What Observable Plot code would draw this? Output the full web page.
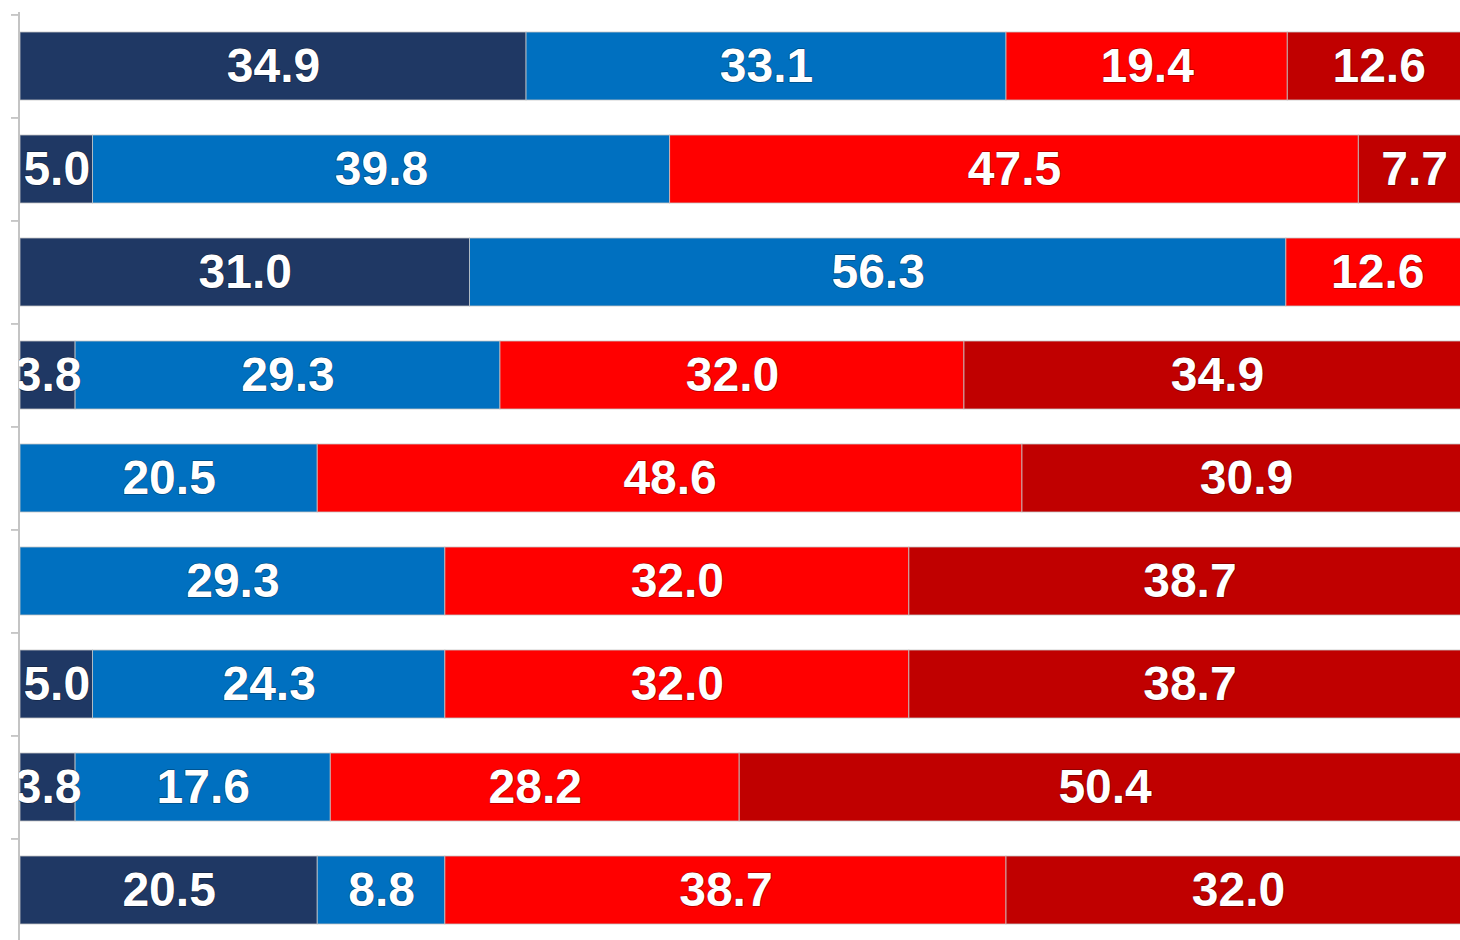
<!DOCTYPE html>
<html>
<head>
<meta charset="utf-8">
<script src="https://cdn.jsdelivr.net/npm/d3@7"></script>
<script src="https://cdn.jsdelivr.net/npm/@observablehq/plot@0.6"></script>
<style>
  html, body { margin: 0; padding: 0; background: #fff; overflow: hidden; }
  #chart { width: 1460px; height: 940px; }
</style>
</head>
<body>
<div id="chart"></div>
<script>
const categories = ["1", "2", "3", "4", "5", "6", "7", "8", "9"];
const seriesNames = ["A", "B", "C", "D"];
const seriesColors = ["#1f3864", "#0070c0", "#ff0000", "#c00000"];
const seriesA = [34.9, 5.0, 31.0, 3.8, 0, 0, 5.0, 3.8, 20.5];
const seriesB = [33.1, 39.8, 56.3, 29.3, 20.5, 29.3, 24.3, 17.6, 8.8];
const seriesC = [19.4, 47.5, 12.6, 32.0, 48.6, 32.0, 32.0, 28.2, 38.7];
const seriesD = [12.6, 7.7, 0, 34.9, 30.9, 38.7, 38.7, 50.4, 32.0];

const seriesValues = [seriesA, seriesB, seriesC, seriesD];
const data = [];
categories.forEach((cat, i) => {
  seriesNames.forEach((s, j) => {
    data.push({cat, series: s, value: seriesValues[j][i]});
  });
});

const chart = Plot.plot({
  width: 1460,
  height: 940,
  marginLeft: 19,
  marginRight: 0,
  marginTop: 12,
  marginBottom: 0,
  x: {domain: [0, 100], range: [20, 1470], axis: null},
  y: {domain: categories, range: [13.5, 941.5], paddingInner: 0.34, paddingOuter: 0.17, axis: null},
  color: {domain: seriesNames, range: seriesColors},
  marks: [
    Plot.ruleX([0], {stroke: "#c4c4c4", strokeWidth: 2, dx: -1.5}),
    Plot.barX(data, Plot.stackX({
      x: "value", y: "cat", fill: "series",
      stroke: "#c4c4c4", strokeWidth: 1, strokeOpacity: 0.8
    })),
    Plot.axisY({
      tickSize: 7, tickFormat: () => "", label: null, dy: -51.55, dx: -1,
      stroke: "#b8b8b8", strokeWidth: 1.5
    }),
    Plot.text(data, Plot.stackX({
      x: "value", y: "cat",
      text: d => d.value > 0 ? d.value.toFixed(1) : "",
      fill: "white",
      stroke: "rgba(0,0,0,0.35)", strokeWidth: 1.5, paintOrder: "stroke",
      fontSize: 48, fontWeight: "bold",
      fontFamily: "'Liberation Sans', Arial, sans-serif",
      clip: true
    }))
  ]
});
document.getElementById("chart").appendChild(chart);
</script>
</body>
</html>
